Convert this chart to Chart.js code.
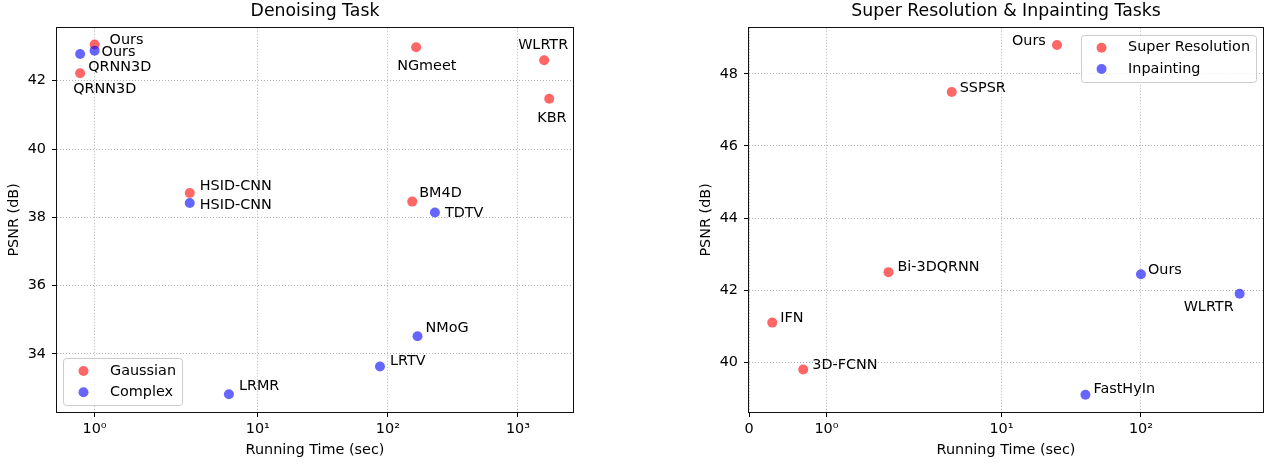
<!DOCTYPE html>
<html>
<head>
<meta charset="utf-8">
<script src="https://cdn.jsdelivr.net/npm/chart.js@4.4.0/dist/chart.umd.min.js"></script>
<style>
  html, body { margin: 0; padding: 0; background: #fff; }
  #wrap { position: relative; width: 1268px; height: 464px; }
  .panel { position: absolute; top: 0; width: 634px; height: 464px; }
</style>
</head>
<body>
<div id="wrap">
  <div class="panel" style="left:0"><canvas id="denoise" width="634" height="464"></canvas></div>
  <div class="panel" style="left:634px"><canvas id="srInp" width="634" height="464"></canvas></div>
</div>
<script>
// ---- denoising task ----
const denoiseTicksX = [1, 10, 100, 1000];
const denoiseTickLabelsX = ["10⁰", "10¹", "10²", "10³"];
const denoiseTicksY = [34, 36, 38, 40, 42];

const gaussianNames = ["Ours", "QRNN3D", "HSID-CNN", "NGmeet", "WLRTR", "KBR", "BM4D"];
const gaussianTime = [1.0, 0.8, 3.0, 165, 1590, 1740, 154];
const gaussianPsnr = [43.06, 42.22, 38.71, 42.98, 42.60, 41.47, 38.46];

const complexNames = ["Ours", "QRNN3D", "HSID-CNN", "TDTV", "NMoG", "LRTV", "LRMR"];
const complexTime = [1.0, 0.8, 3.0, 230, 169, 87, 6.0];
const complexPsnr = [42.88, 42.78, 38.42, 38.14, 34.52, 33.63, 32.82];

// ---- super resolution & inpainting ----
const srTicksX = [0, 1, 10, 100];
const srTickLabelsX = ["0", "10⁰", "10¹", "10²"];
const srTicksY = [40, 42, 44, 46, 48];

const srNames = ["Ours", "SSPSR", "Bi-3DQRNN", "IFN", "3D-FCNN"];
const srTime = [25, 4.4, 1.8, 0.3, 0.7];
const srPsnr = [48.8, 47.5, 42.5, 41.1, 39.8];

const inpNames = ["Ours", "WLRTR", "FastHyIn"];
const inpTime = [100, 510, 40];
const inpPsnr = [42.44, 41.9, 39.1];

// label nudges in px (left edge, vertical middle), like annotate xytext
const gaussianNudge = [[15, -4], [-7, 16], [10, -7], [-19, 19], [-26, -15], [-12, 19], [7, -8]];
const complexNudge = [[7, 2], [8, 13], [10, 2], [10, 1], [8, -8], [10, -5], [10, -8]];
const srNudge = [[-45, -4], [8, -4], [9, -5], [8, -4], [9, -4]];
const inpNudge = [[7, -4], [-56, 13], [8, -5]];

const RED = "rgba(255,0,0,0.6)";
const BLUE = "rgba(0,0,255,0.6)";
const FS = 14.4;

Chart.defaults.font.family = '"DejaVu Sans", sans-serif';
Chart.defaults.font.size = FS;
Chart.defaults.color = "#000";

// matplotlib style symlog (linthresh=2, linscale=1)
const LINTHRESH = 2;
const LINSCALE = 1 / (1 - 1 / 10);
function symlog(v) {
  const a = Math.abs(v);
  if (a <= LINTHRESH) return v * LINSCALE;
  return Math.sign(v) * LINTHRESH * (LINSCALE + Math.log10(a / LINTHRESH));
}
function symexp(t) {
  const a = Math.abs(t);
  if (a <= LINTHRESH * LINSCALE) return t / LINSCALE;
  return Math.sign(t) * LINTHRESH * Math.pow(10, a / LINTHRESH - LINSCALE);
}

class SymlogScale extends Chart.Scale {
  static id = "symlog";
  static defaults = {};
  determineDataLimits() {
    const { min, max } = this.getMinMax(true);
    this.min = min;
    this.max = max;
  }
  buildTicks() { return []; }
  configure() {
    super.configure();
    this._t0 = symlog(this.min);
    this._t1 = symlog(this.max);
  }
  getPixelForValue(v) {
    return this.getPixelForDecimal((symlog(v) - this._t0) / (this._t1 - this._t0));
  }
  getValueForPixel(p) {
    return symexp(this._t0 + this.getDecimalForPixel(p) * (this._t1 - this._t0));
  }
}
Chart.register(SymlogScale);

const frame = {
  id: "frame",
  beforeDatasetsDraw(chart) {
    const { left, top, right, bottom } = chart.chartArea;
    const ctx = chart.ctx;
    ctx.save();
    ctx.strokeStyle = "#111";
    ctx.lineWidth = 1;
    ctx.strokeRect(Math.round(left) - 0.5, Math.round(top) - 0.5, Math.round(right - left) + 1, Math.round(bottom - top) + 1);
    ctx.restore();
  }
};

const pointNames = {
  id: "pointNames",
  afterDatasetsDraw(chart) {
    const ctx = chart.ctx;
    ctx.save();
    ctx.font = FS + 'px "DejaVu Sans"';
    ctx.fillStyle = "#000";
    ctx.textAlign = "left";
    ctx.textBaseline = "middle";
    chart.data.datasets.forEach((ds, di) => {
      chart.getDatasetMeta(di).data.forEach((pt, i) => {
        const [dx, dy] = ds.nudge[i];
        ctx.fillText(ds.names[i], pt.x + dx, pt.y + dy);
      });
    });
    ctx.restore();
  }
};

const innerLegend = {
  id: "innerLegend",
  afterDraw(chart, args, opts) {
    const ctx = chart.ctx, ca = chart.chartArea;
    const items = chart.data.datasets;
    ctx.save();
    ctx.font = FS + 'px "DejaVu Sans"';
    const textW = Math.max(...items.map(d => ctx.measureText(d.label).width));
    const w = 47 + textW + 6, h = 47;
    const x = opts.corner === "lowerLeft" ? ca.left + 6 : ca.right - 7 - w;
    const y = opts.corner === "lowerLeft" ? ca.bottom - 7 - h : ca.top + 7;
    ctx.beginPath();
    ctx.roundRect(Math.round(x) + 0.5, Math.round(y) + 0.5, Math.round(w), h, 3);
    ctx.fillStyle = "rgba(255,255,255,0.8)";
    ctx.fill();
    ctx.strokeStyle = "#cccccc";
    ctx.lineWidth = 1;
    ctx.stroke();
    items.forEach((d, i) => {
      const cy = y + 13 + i * 21.3;
      ctx.beginPath();
      ctx.arc(x + 20.5, cy, 5, 0, Math.PI * 2);
      ctx.fillStyle = d.backgroundColor;
      ctx.fill();
      ctx.fillStyle = "#000";
      ctx.textAlign = "left";
      ctx.textBaseline = "middle";
      ctx.fillText(d.label, x + 47, cy);
    });
    ctx.restore();
  }
};

function pts(xs, ys) {
  return xs.map((x, i) => ({ x: x, y: ys[i] }));
}

function dataset(label, xs, ys, color, names, nudge, order) {
  return {
    label: label,
    data: pts(xs, ys),
    backgroundColor: color,
    borderColor: color,
    borderWidth: 0,
    pointRadius: 5,
    pointHoverRadius: 5,
    order: order,
    names: names,
    nudge: nudge
  };
}

function makeChart(id, title, datasets, xTicks, xLabels, xLim, yTicks, yLim, corner, padLeft, padRight) {
  return new Chart(document.getElementById(id), {
    type: "scatter",
    data: { datasets: datasets },
    options: {
      responsive: false,
      animation: false,
      devicePixelRatio: 1,
      layout: { padding: { left: padLeft, right: padRight, top: 0, bottom: 0 } },
      plugins: {
        legend: { display: false },
        tooltip: { enabled: false },
        title: {
          display: true,
          text: title,
          fullSize: false,
          color: "#000",
          font: { size: 17.3, weight: "normal" },
          padding: { top: 1, bottom: 6 }
        },
        innerLegend: { corner: corner }
      },
      scales: {
        x: {
          type: "symlog",
          min: xLim[0],
          max: xLim[1],
          afterBuildTicks(s) { s.ticks = xTicks.map(v => ({ value: v })); },
          afterFit(s) { s.height = 52; },
          grid: { color: "#b0b0b0", lineWidth: 1, tickLength: 5, tickColor: "#000", tickWidth: 1 },
          border: { display: false, dash: [1, 2] },
          ticks: {
            callback: (v, i) => xLabels[i],
            padding: 4,
            maxRotation: 0,
            autoSkip: false,
            color: "#000"
          },
          title: { display: true, text: "Running Time (sec)", color: "#000", padding: { top: 0, bottom: 5 } }
        },
        y: {
          type: "linear",
          min: yLim[0],
          max: yLim[1],
          afterBuildTicks(s) { s.ticks = yTicks.map(v => ({ value: v })); },
          afterFit(s) { s.width = 57; },
          grid: { color: "#b0b0b0", lineWidth: 1, tickLength: 5, tickColor: "#000", tickWidth: 1 },
          border: { display: false, dash: [1, 2] },
          ticks: { callback: v => String(v), padding: 6, color: "#000" },
          title: { display: true, text: "PSNR (dB)", color: "#000", padding: { top: 6, bottom: 0 } }
        }
      }
    },
    plugins: [frame, pointNames, innerLegend]
  });
}

makeChart("denoise", "Denoising Task",
  [dataset("Gaussian", gaussianTime, gaussianPsnr, RED, gaussianNames, gaussianNudge, 1),
   dataset("Complex", complexTime, complexPsnr, BLUE, complexNames, complexNudge, 0)],
  denoiseTicksX, denoiseTickLabelsX, [0.48, 2650],
  denoiseTicksY, [32.3, 43.55], "lowerLeft", 0, 61);

makeChart("srInp", "Super Resolution & Inpainting Tasks",
  [dataset("Super Resolution", srTime, srPsnr, RED, srNames, srNudge, 1),
   dataset("Inpainting", inpTime, inpPsnr, BLUE, inpNames, inpNudge, 0)],
  srTicksX, srTickLabelsX, [0, 750],
  srTicksY, [38.62, 49.28], "upperRight", 58, 3);
</script>
</body>
</html>
